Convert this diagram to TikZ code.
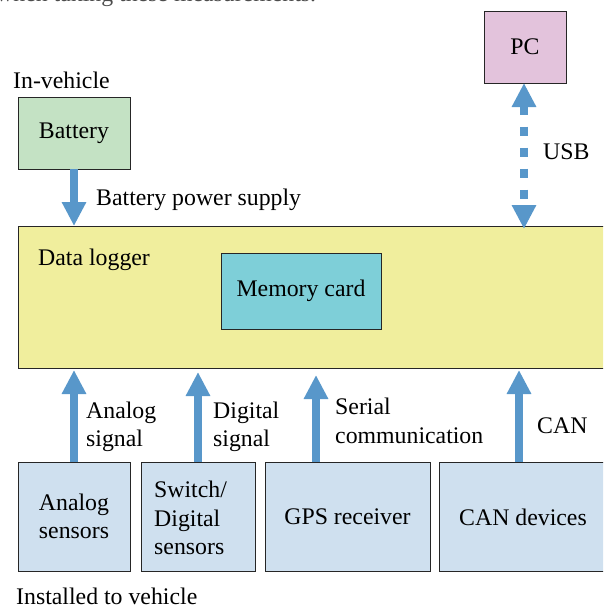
\documentclass[tikz,border=0pt]{standalone}
\usepackage{fontspec}
\setmainfont{Liberation Serif}
\usetikzlibrary{arrows.meta}
\definecolor{arrowblue}{RGB}{88,151,202}
\definecolor{pcpink}{RGB}{227,195,220}
\definecolor{batgreen}{RGB}{196,226,196}
\definecolor{logyellow}{RGB}{240,238,157}
\definecolor{memcyan}{RGB}{126,207,216}
\definecolor{senblue}{RGB}{207,224,239}
\tikzset{
  box/.style={draw=black!85, line width=0.9pt, inner sep=0pt},
  txt/.style={font=\fontsize{23.8}{28.5}\selectfont, inner sep=0pt},
  flow/.style={draw=arrowblue, line width=8pt, -{Triangle[width=23pt,length=24pt]}},
  usbflow/.style={draw=arrowblue, line width=8pt, dash pattern=on 9pt off 12pt,
    {Triangle[width=23pt,length=24pt]}-{Triangle[width=23pt,length=24pt]}}
}
\begin{document}
\begin{tikzpicture}[x=1pt,y=-1pt]
\useasboundingbox (0,0) rectangle (603,608);
\begin{scope}
\clip (0,0) rectangle (603,608);
\node[txt, anchor=base west, text=black!70] (cut) at (-4,1) {when taking these measurements.};
% boxes
\node[box, fill=pcpink, minimum width=82pt, minimum height=72pt] (pc) at (525,47) {};
\node[txt] at (pc) {PC};
\node[box, fill=batgreen, minimum width=112pt, minimum height=72pt] (bat) at (74,133) {};
\node[txt] at (bat) {Battery};
\node[box, fill=logyellow, minimum width=590pt, minimum height=142pt] (log) at (313,297) {};
\node[box, fill=memcyan, minimum width=160pt, minimum height=76pt] (mem) at (301,291) {};
\node[txt] at (mem) {Memory card};
\node[box, fill=senblue, minimum width=112pt, minimum height=109pt] (ana) at (74,516.5) {};
\node[txt, align=center] at (ana) {Analog\\sensors};
\node[box, fill=senblue, minimum width=114pt, minimum height=109pt] (sw) at (198,516.5) {};
\node[txt, align=left, anchor=west] at (154,518) {Switch/\\Digital\\sensors};
\node[box, fill=senblue, minimum width=165pt, minimum height=109pt] (gps) at (347.5,516.5) {};
\node[txt] at (gps) {GPS receiver};
\node[box, fill=senblue, minimum width=170pt, minimum height=109pt] (can) at (524,516.5) {};
\node[txt] at (523,517) {CAN devices};
% labels
\node[txt, anchor=west] (inv) at (13,80) {In-vehicle};
\node[txt, anchor=west] (dl) at (38,260) {Data logger};
\node[txt, anchor=west] (bps) at (96,200) {Battery power supply};
\node[txt, anchor=west] (usb) at (543,152) {USB};
\node[txt, anchor=west, align=left] (als) at (86,427) {Analog\\signal};
\node[txt, anchor=west, align=left] (dgs) at (213,427) {Digital\\signal};
\node[txt, anchor=west, align=left] (ser) at (335,421) {Serial\\communication};
\node[txt, anchor=west] (canl) at (537,426) {CAN};
\node[txt, anchor=west] (inst) at (16,596) {Installed to vehicle};
% connectors
\coordinate (batb) at (74,169);
\coordinate (logt) at (74,226);
\draw[flow] (batb) -- (logt);
\coordinate (pcb) at (524,83);
\coordinate (logu) at (524,229);
\draw[usbflow] (pcb) -- (logu);
\draw[flow] (ana.north) -- (74,370);
\draw[flow] (sw.north) -- (198,372);
\draw[flow] (316,462) -- (316,375);
\draw[flow] (519,462) -- (519,370);
\end{scope}
\end{tikzpicture}
\end{document}
